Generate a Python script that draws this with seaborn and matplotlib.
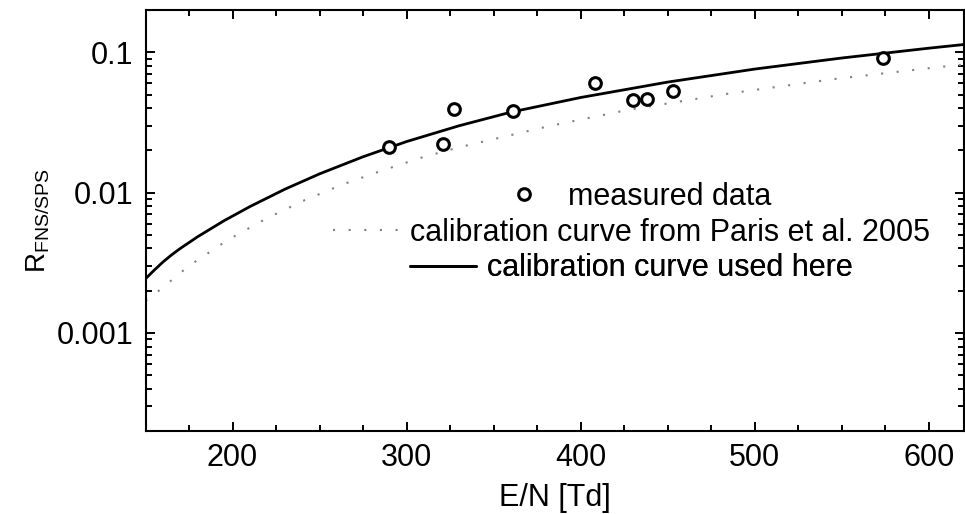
import numpy as np
import pandas as pd
import matplotlib
matplotlib.use('Agg')
import matplotlib.pyplot as plt
from matplotlib.lines import Line2D
from matplotlib.ticker import MultipleLocator, LogLocator, NullFormatter, FixedLocator
import seaborn as sns

# measured points (E/N in Td, ratio FNS/SPS)
meas_E = [290, 321, 327, 361, 408, 430, 438, 453, 574]
meas_R = [0.0213, 0.0223, 0.0392, 0.0381, 0.0604, 0.0454, 0.0467, 0.0530, 0.0910]

# calibration curve used here
cal_E = [150, 155, 160, 165, 170, 180, 195, 210, 230, 250, 275, 300, 330, 360,
         400, 450, 500, 550, 600, 620]
cal_R = [0.00243, 0.00280, 0.00320, 0.00360, 0.00400, 0.00485, 0.00629, 0.00795,
         0.01056, 0.0136, 0.0180, 0.0231, 0.0299, 0.03745, 0.0476, 0.0613,
         0.0759, 0.0910, 0.1069, 0.1135]

# calibration curve from Paris et al. 2005 (dotted line)
paris_E = [150, 153, 175, 197, 219, 241, 263, 286, 308, 330, 382, 427, 486, 545, 605, 620]
paris_R = [0.00169, 0.00179, 0.00301, 0.00457, 0.0065, 0.00878, 0.0114, 0.01436,
           0.01767, 0.0210, 0.0298, 0.0388, 0.0510, 0.0643, 0.0782, 0.0818]

legend_labels = ['measured data', 'calibration curve from Paris et al. 2005',
                 'calibration curve used here']

sns.set_theme(style='ticks')
plt.rcParams['font.family'] = ['Liberation Sans', 'DejaVu Sans']
plt.rcParams['mathtext.default'] = 'regular'
plt.rcParams['text.color'] = 'black'
plt.rcParams['axes.labelcolor'] = 'black'
plt.rcParams['xtick.color'] = 'black'
plt.rcParams['ytick.color'] = 'black'

meas = pd.DataFrame({'E': meas_E, 'R': meas_R})
cal = pd.DataFrame({'E': cal_E, 'R': cal_R})
paris = pd.DataFrame({'E': paris_E, 'R': paris_R})

fig = plt.figure(figsize=(9.65, 5.14), dpi=100)
ax = fig.add_axes([0.1508, 0.1615, 0.8477, 0.8190])

dot_style = (0, (1, 6.5))
sns.lineplot(data=paris, x='E', y='R', ax=ax, color='#808080', lw=1.5,
             linestyle=dot_style, zorder=2)
sns.lineplot(data=cal, x='E', y='R', ax=ax, color='black', lw=2.0, zorder=3)
sns.scatterplot(data=meas, x='E', y='R', ax=ax, marker='o', s=71,
                facecolor='white', edgecolor='black', linewidth=2.2, zorder=4)

ax.set_yscale('log')
ax.set_xlim(150, 620)
ax.set_ylim(2e-4, 0.2)

ax.xaxis.set_major_locator(MultipleLocator(100))
ax.xaxis.set_minor_locator(MultipleLocator(25))
ax.yaxis.set_major_locator(FixedLocator([0.001, 0.01, 0.1]))
ax.yaxis.set_major_formatter(plt.FuncFormatter(lambda v, p: f'{v:g}'))
ax.yaxis.set_minor_locator(LogLocator(base=10, subs=np.arange(2, 10)))
ax.yaxis.set_minor_formatter(NullFormatter())

for s in ax.spines.values():
    s.set_visible(True)
    s.set_linewidth(1.5)
    s.set_color('black')
ax.tick_params(which='both', direction='in', top=True, right=True,
               width=1.4, color='black', labelcolor='black', labelsize=22, pad=9)
ax.tick_params(which='major', length=6.5)
ax.tick_params(which='minor', length=4)

ax.set_xlabel('E/N [Td]', fontsize=22, labelpad=7, color='black')
ax.set_ylabel(r'R$_{FNS/SPS}$', fontsize=20, color='black')
ax.yaxis.set_label_coords(-0.114, 0.5)
ax.grid(False)

# centred legend rows
handles = [
    Line2D([], [], marker='o', ls='none', mfc='white', mec='black', ms=8.4, mew=2.2),
    Line2D([], [], color='#808080', lw=1.5, linestyle=dot_style),
    Line2D([], [], color='black', lw=2.0),
]
ys = [0.557, 0.471, 0.386]
for h, lab, yy in zip(handles, legend_labels, ys):
    leg = ax.legend([h], [lab], loc='center', bbox_to_anchor=(0.594, yy),
                    frameon=False, fontsize=22, handlelength=2.16,
                    handletextpad=0.35, borderpad=0, borderaxespad=0)
    for t in leg.get_texts():
        t.set_color('black')
    ax.add_artist(leg)

fig.savefig('out.png', dpi=100)
